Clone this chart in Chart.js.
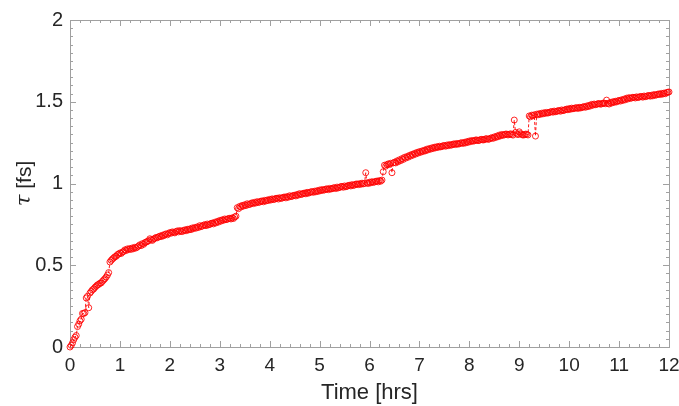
<!DOCTYPE html>
<html lang="en">
<head>
    <meta charset="UTF-8">
    <title>Tau vs Time</title>
    <script src="https://cdn.jsdelivr.net/npm/chart.js"></script>
    <style>
        html, body { margin: 0; padding: 0; background: white; }
        #wrap { width: 679px; height: 406px; position: relative; }
    </style>
</head>
<body>
    <div id="wrap"><canvas id="tauChart"></canvas></div>

    <script>
        // sample times [hrs]
        const timeHrs = [
            0.000, 0.025, 0.050, 0.075, 0.100, 0.125, 0.150, 0.175, 0.200, 0.225, 0.250, 0.275, 0.300, 0.325, 0.350, 0.375, 0.400, 0.425, 0.450, 0.475,
            0.500, 0.525, 0.550, 0.575, 0.600, 0.625, 0.650, 0.675, 0.700, 0.725, 0.750, 0.775, 0.800, 0.825, 0.850, 0.875, 0.900, 0.925, 0.950, 0.975,
            1.000, 1.025, 1.050, 1.075, 1.100, 1.125, 1.150, 1.175, 1.200, 1.225, 1.250, 1.275, 1.300, 1.325, 1.350, 1.375, 1.400, 1.425, 1.450, 1.475,
            1.500, 1.525, 1.550, 1.575, 1.600, 1.625, 1.650, 1.675, 1.700, 1.725, 1.750, 1.775, 1.800, 1.825, 1.850, 1.875, 1.900, 1.925, 1.950, 1.975,
            2.000, 2.025, 2.050, 2.075, 2.100, 2.125, 2.150, 2.175, 2.200, 2.225, 2.250, 2.275, 2.300, 2.325, 2.350, 2.375, 2.400, 2.425, 2.450, 2.475,
            2.500, 2.525, 2.550, 2.575, 2.600, 2.625, 2.650, 2.675, 2.700, 2.725, 2.750, 2.775, 2.800, 2.825, 2.850, 2.875, 2.900, 2.925, 2.950, 2.975,
            3.000, 3.025, 3.050, 3.075, 3.100, 3.125, 3.150, 3.175, 3.200, 3.225, 3.250, 3.275, 3.300, 3.325, 3.350, 3.375, 3.400, 3.425, 3.450, 3.475,
            3.500, 3.525, 3.550, 3.575, 3.600, 3.625, 3.650, 3.675, 3.700, 3.725, 3.750, 3.775, 3.800, 3.825, 3.850, 3.875, 3.900, 3.925, 3.950, 3.975,
            4.000, 4.025, 4.050, 4.075, 4.100, 4.125, 4.150, 4.175, 4.200, 4.225, 4.250, 4.275, 4.300, 4.325, 4.350, 4.375, 4.400, 4.425, 4.450, 4.475,
            4.500, 4.525, 4.550, 4.575, 4.600, 4.625, 4.650, 4.675, 4.700, 4.725, 4.750, 4.775, 4.800, 4.825, 4.850, 4.875, 4.900, 4.925, 4.950, 4.975,
            5.000, 5.025, 5.050, 5.075, 5.100, 5.125, 5.150, 5.175, 5.200, 5.225, 5.250, 5.275, 5.300, 5.325, 5.350, 5.375, 5.400, 5.425, 5.450, 5.475,
            5.500, 5.525, 5.550, 5.575, 5.600, 5.625, 5.650, 5.675, 5.700, 5.725, 5.750, 5.775, 5.800, 5.825, 5.850, 5.875, 5.900, 5.925, 5.950, 5.975,
            6.000, 6.025, 6.050, 6.075, 6.100, 6.125, 6.150, 6.175, 6.200, 6.225, 6.250, 6.275, 6.300, 6.325, 6.350, 6.375, 6.400, 6.425, 6.450, 6.475,
            6.500, 6.525, 6.550, 6.575, 6.600, 6.625, 6.650, 6.675, 6.700, 6.725, 6.750, 6.775, 6.800, 6.825, 6.850, 6.875, 6.900, 6.925, 6.950, 6.975,
            7.000, 7.025, 7.050, 7.075, 7.100, 7.125, 7.150, 7.175, 7.200, 7.225, 7.250, 7.275, 7.300, 7.325, 7.350, 7.375, 7.400, 7.425, 7.450, 7.475,
            7.500, 7.525, 7.550, 7.575, 7.600, 7.625, 7.650, 7.675, 7.700, 7.725, 7.750, 7.775, 7.800, 7.825, 7.850, 7.875, 7.900, 7.925, 7.950, 7.975,
            8.000, 8.025, 8.050, 8.075, 8.100, 8.125, 8.150, 8.175, 8.200, 8.225, 8.250, 8.275, 8.300, 8.325, 8.350, 8.375, 8.400, 8.425, 8.450, 8.475,
            8.500, 8.525, 8.550, 8.575, 8.600, 8.625, 8.650, 8.675, 8.700, 8.725, 8.750, 8.775, 8.800, 8.825, 8.850, 8.875, 8.900, 8.925, 8.950, 8.975,
            9.000, 9.025, 9.050, 9.075, 9.100, 9.125, 9.150, 9.175, 9.200, 9.225, 9.250, 9.275, 9.300, 9.325, 9.350, 9.375, 9.400, 9.425, 9.450, 9.475,
            9.500, 9.525, 9.550, 9.575, 9.600, 9.625, 9.650, 9.675, 9.700, 9.725, 9.750, 9.775, 9.800, 9.825, 9.850, 9.875, 9.900, 9.925, 9.950, 9.975,
            10.000, 10.025, 10.050, 10.075, 10.100, 10.125, 10.150, 10.175, 10.200, 10.225, 10.250, 10.275, 10.300, 10.325, 10.350, 10.375, 10.400, 10.425, 10.450, 10.475,
            10.500, 10.525, 10.550, 10.575, 10.600, 10.625, 10.650, 10.675, 10.700, 10.725, 10.750, 10.775, 10.800, 10.825, 10.850, 10.875, 10.900, 10.925, 10.950, 10.975,
            11.000, 11.025, 11.050, 11.075, 11.100, 11.125, 11.150, 11.175, 11.200, 11.225, 11.250, 11.275, 11.300, 11.325, 11.350, 11.375, 11.400, 11.425, 11.450, 11.475,
            11.500, 11.525, 11.550, 11.575, 11.600, 11.625, 11.650, 11.675, 11.700, 11.725, 11.750, 11.775, 11.800, 11.825, 11.850, 11.875, 11.900, 11.925, 11.950, 11.975, 12.000
        ];

        // tau [fs]
        const tauFs = [
            0.000, 0.010, 0.025, 0.045, 0.060, 0.070, 0.125, 0.140, 0.160, 0.170, 0.205, 0.205, 0.210, 0.300, 0.310, 0.240, 0.330, 0.340, 0.350, 0.355,
            0.365, 0.372, 0.380, 0.383, 0.390, 0.392, 0.402, 0.410, 0.418, 0.428, 0.440, 0.455, 0.520, 0.530, 0.538, 0.545, 0.552, 0.555, 0.565, 0.568,
            0.575, 0.572, 0.580, 0.585, 0.594, 0.590, 0.600, 0.596, 0.602, 0.597, 0.606, 0.601, 0.610, 0.606, 0.612, 0.618, 0.625, 0.620, 0.632, 0.628,
            0.638, 0.642, 0.645, 0.650, 0.662, 0.656, 0.652, 0.660, 0.665, 0.670, 0.668, 0.674, 0.678, 0.675, 0.684, 0.680, 0.688, 0.692, 0.686, 0.694,
            0.700, 0.696, 0.704, 0.701, 0.698, 0.706, 0.710, 0.704, 0.712, 0.708, 0.706, 0.713, 0.716, 0.711, 0.720, 0.716, 0.722, 0.718, 0.728, 0.724,
            0.731, 0.727, 0.735, 0.731, 0.742, 0.736, 0.740, 0.745, 0.748, 0.742, 0.752, 0.747, 0.750, 0.756, 0.758, 0.753, 0.763, 0.759, 0.768, 0.764,
            0.774, 0.770, 0.778, 0.775, 0.783, 0.779, 0.781, 0.786, 0.787, 0.783, 0.790, 0.786, 0.795, 0.800, 0.852, 0.846, 0.860, 0.856, 0.866, 0.862,
            0.870, 0.865, 0.876, 0.871, 0.872, 0.878, 0.882, 0.877, 0.885, 0.881, 0.889, 0.884, 0.887, 0.892, 0.893, 0.888, 0.897, 0.893, 0.899, 0.896,
            0.903, 0.899, 0.906, 0.902, 0.904, 0.909, 0.910, 0.905, 0.913, 0.909, 0.911, 0.916, 0.917, 0.912, 0.920, 0.916, 0.925, 0.920, 0.922, 0.927,
            0.928, 0.924, 0.933, 0.929, 0.938, 0.933, 0.935, 0.940, 0.941, 0.937, 0.946, 0.941, 0.944, 0.949, 0.950, 0.946, 0.953, 0.949, 0.956, 0.952,
            0.960, 0.956, 0.963, 0.959, 0.961, 0.966, 0.967, 0.962, 0.970, 0.966, 0.968, 0.973, 0.974, 0.969, 0.978, 0.973, 0.976, 0.981, 0.982, 0.977,
            0.985, 0.980, 0.983, 0.988, 0.989, 0.985, 0.993, 0.988, 0.991, 0.996, 0.997, 0.993, 0.999, 0.995, 1.002, 0.998, 1.000, 1.066, 1.004, 1.000,
            1.008, 1.004, 1.011, 1.007, 1.009, 1.013, 1.015, 1.010, 1.018, 1.014, 1.021, 1.072, 1.112, 1.106, 1.115, 1.120, 1.116, 1.124, 1.066, 1.126,
            1.130, 1.126, 1.138, 1.133, 1.145, 1.140, 1.152, 1.147, 1.160, 1.155, 1.165, 1.161, 1.172, 1.168, 1.178, 1.174, 1.184, 1.180, 1.190, 1.186,
            1.195, 1.191, 1.199, 1.196, 1.204, 1.200, 1.210, 1.206, 1.214, 1.210, 1.218, 1.214, 1.222, 1.218, 1.225, 1.221, 1.228, 1.224, 1.226, 1.231,
            1.232, 1.228, 1.235, 1.231, 1.238, 1.234, 1.236, 1.241, 1.242, 1.238, 1.245, 1.241, 1.243, 1.248, 1.249, 1.245, 1.252, 1.248, 1.256, 1.252,
            1.260, 1.256, 1.263, 1.259, 1.261, 1.266, 1.266, 1.262, 1.264, 1.269, 1.270, 1.266, 1.268, 1.273, 1.274, 1.270, 1.272, 1.277, 1.280, 1.276,
            1.285, 1.281, 1.290, 1.286, 1.296, 1.291, 1.300, 1.295, 1.298, 1.302, 1.302, 1.297, 1.300, 1.304, 1.300, 1.296, 1.388, 1.312, 1.304, 1.299,
            1.316, 1.305, 1.300, 1.296, 1.298, 1.302, 1.301, 1.297, 1.413, 1.408, 1.418, 1.414, 1.420, 1.290, 1.424, 1.420, 1.427, 1.423, 1.430, 1.426,
            1.433, 1.429, 1.435, 1.431, 1.434, 1.438, 1.440, 1.436, 1.443, 1.439, 1.441, 1.445, 1.446, 1.442, 1.450, 1.446, 1.448, 1.452, 1.455, 1.451,
            1.458, 1.454, 1.461, 1.457, 1.459, 1.463, 1.463, 1.459, 1.466, 1.462, 1.464, 1.468, 1.470, 1.466, 1.474, 1.470, 1.478, 1.474, 1.484, 1.479,
            1.486, 1.482, 1.484, 1.488, 1.489, 1.485, 1.487, 1.491, 1.492, 1.488, 1.510, 1.490, 1.486, 1.496, 1.492, 1.500, 1.496, 1.503, 1.499, 1.505,
            1.508, 1.504, 1.512, 1.508, 1.516, 1.512, 1.522, 1.517, 1.525, 1.521, 1.523, 1.527, 1.527, 1.523, 1.530, 1.526, 1.528, 1.532, 1.532, 1.528,
            1.535, 1.531, 1.533, 1.537, 1.538, 1.534, 1.540, 1.536, 1.544, 1.540, 1.542, 1.546, 1.548, 1.544, 1.551, 1.547, 1.553, 1.549, 1.556, 1.558, 1.560
        ];

        const xTicks = [0, 1, 2, 3, 4, 5, 6, 7, 8, 9, 10, 11, 12];
        const yTicks = [0, 0.5, 1, 1.5, 2];

        const FONT = "'Liberation Sans', Arial, Helvetica, sans-serif";
        const TEXT = "#262626";
        const FRAME = "#a0a0a0";

        // box frame + inward ticks on all four sides (major and minor)
        const frameTicks = {
            id: "frameTicks",
            beforeDatasetsDraw(chart) {
                const { ctx, chartArea: a, scales } = chart;
                const xs = scales.x, ys = scales.y;
                ctx.save();
                ctx.strokeStyle = FRAME;
                ctx.lineWidth = 1;
                ctx.strokeRect(Math.round(a.left) + 0.5, Math.round(a.top) + 0.5,
                    Math.round(a.right) - Math.round(a.left), Math.round(a.bottom) - Math.round(a.top));
                ctx.beginPath();
                for (let i = 0; i <= 60; i++) {
                    const px = Math.round(xs.getPixelForValue(i * 0.2)) + 0.5;
                    const len = (i % 5 === 0) ? 6 : 3;
                    ctx.moveTo(px, a.bottom); ctx.lineTo(px, a.bottom - len);
                    ctx.moveTo(px, a.top); ctx.lineTo(px, a.top + len);
                }
                for (let i = 0; i <= 40; i++) {
                    const py = Math.round(ys.getPixelForValue(i * 0.05)) + 0.5;
                    const len = (i % 10 === 0) ? 6 : 3;
                    ctx.moveTo(a.left, py); ctx.lineTo(a.left + len, py);
                    ctx.moveTo(a.right, py); ctx.lineTo(a.right - len, py);
                }
                ctx.stroke();
                ctx.restore();
            },
            afterDraw(chart) {
                const { ctx, chartArea: a } = chart;
                // y title with italic tau
                ctx.save();
                ctx.fillStyle = TEXT;
                ctx.translate(25, (a.top + a.bottom) / 2);
                ctx.rotate(-Math.PI / 2);
                ctx.textBaseline = "middle";
                ctx.textAlign = "left";
                ctx.font = "italic 21px 'DejaVu Serif', serif";
                const tauW = ctx.measureText("τ").width;
                ctx.font = "21px " + FONT;
                const restW = ctx.measureText(" [fs]").width;
                const start = -(tauW + restW) / 2;
                ctx.font = "italic 21px 'DejaVu Serif', serif";
                ctx.fillText("τ", start, 0);
                ctx.font = "21px " + FONT;
                ctx.fillText(" [fs]", start + tauW, 0);
                ctx.restore();
            }
        };

        const points = timeHrs.map((t, i) => ({ x: t, y: tauFs[i] }));

        new Chart(document.getElementById("tauChart"), {
            type: "line",
            data: {
                datasets: [{
                    data: points,
                    borderColor: "rgba(255, 0, 0, 0.9)",
                    borderWidth: 1,
                    borderDash: [3, 2],
                    pointRadius: 3,
                    pointBorderWidth: 1,
                    pointBorderColor: "rgba(255, 0, 0, 0.85)",
                    pointBackgroundColor: "rgba(255, 255, 255, 0)",
                    tension: 0,
                    clip: false
                }]
            },
            options: {
                responsive: true,
                maintainAspectRatio: false,
                animation: false,
                layout: { padding: { top: 20, right: 0, left: 0, bottom: 0 } },
                plugins: { legend: { display: false }, tooltip: { enabled: false } },
                scales: {
                    x: {
                        type: "linear",
                        min: 0, max: 12,
                        afterBuildTicks: s => { s.ticks = xTicks.map(v => ({ value: v })); },
                        afterFit: s => { s.height = 59; s.paddingLeft = 0; s.paddingRight = 10; },
                        grid: { display: false, drawTicks: false, tickLength: 0 },
                        border: { display: false },
                        ticks: { color: TEXT, font: { family: FONT, size: 19 }, padding: 7, maxRotation: 0 },
                        title: { display: true, text: "Time [hrs]", color: TEXT, font: { family: FONT, size: 22 }, padding: { top: 0, bottom: 0 } }
                    },
                    y: {
                        min: 0, max: 2,
                        afterBuildTicks: s => { s.ticks = yTicks.map(v => ({ value: v })); },
                        afterFit: s => { s.width = 70; s.paddingTop = 0; s.paddingBottom = 0; },
                        grid: { display: false, drawTicks: false, tickLength: 0 },
                        border: { display: false },
                        ticks: { color: TEXT, font: { family: FONT, size: 20 }, padding: 7, callback: v => String(v) }
                    }
                }
            },
            plugins: [frameTicks]
        });
    </script>
</body>
</html>
